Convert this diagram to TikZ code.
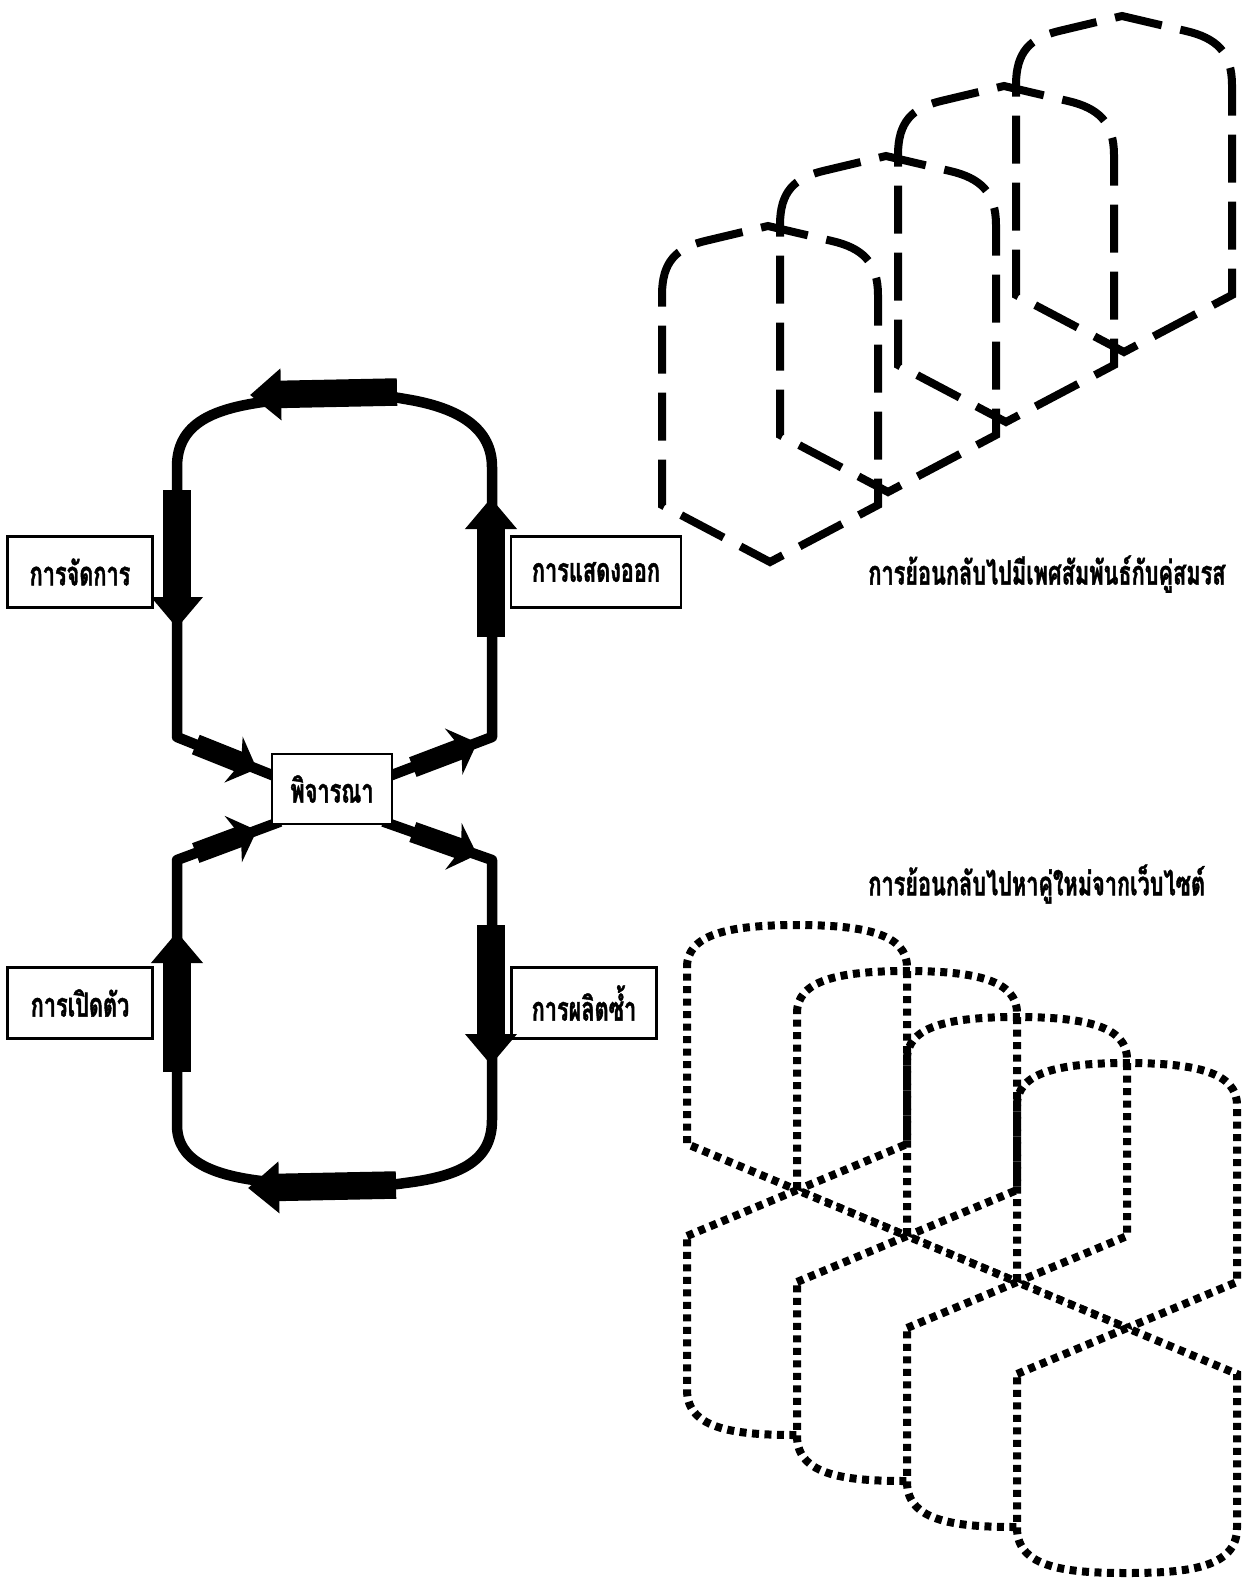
\documentclass[tikz,border=0pt]{standalone}
\usepackage{fontspec}
\newfontfamily\thaifont[Script=Thai,FakeStretch=0.65,BoldFeatures={FakeBold=1.2}]{Loma}
\usetikzlibrary{arrows.meta,calc,backgrounds}

\begin{document}
\begin{tikzpicture}[x=0.02cm,y=-0.02cm,
    labelbox/.style={draw, line width=1.2pt, fill=white, minimum width=2.9cm, minimum height=1.42cm,
      font=\fontsize{19}{22}\thaifont\bfseries},
    captiontext/.style={anchor=west, inner sep=0pt, font=\fontsize{19}{22}\thaifont\bfseries},
    loopline/.style={line width=0.21cm, line join=round},
    bigarrow/.style={line width=0.55cm, -{Triangle[width=1cm,length=0.62cm]}},
    smallarrow/.style={line width=0.42cm, -{Stealth[width=0.98cm,length=0.5cm,inset=0.16cm]}},
    dashedwall/.style={line width=0.16cm, dash pattern=on 0.96cm off 0.38cm},
    dottedwall/.style={line width=0.16cm, dash pattern=on 0.14cm off 0.11cm}]

  \useasboundingbox (0,0) rectangle (1251,1580);

  % Boxes
  \node[labelbox, minimum width=2.4cm, minimum height=1.4cm] (cons) at (332,789) {พิจารณา};
  \node[labelbox] (manage) at (80,572) {การจัดการ};
  \node[labelbox, minimum width=3.4cm] (express) at (596,572) {การแสดงออก};
  \node[labelbox] (open) at (80,1003) {การเปิดตัว};
  \node[labelbox] (repro) at (584,1003) {การผลิตซ้ำ};

  % Loop corners
  \coordinate (ul) at (177,737);
  \coordinate (ur) at (492,737);
  \coordinate (ll) at (177,860);
  \coordinate (lr) at (492,860);
  \coordinate (ua) at ($(cons.south west)!0.7!(cons.north west)$);
  \coordinate (ub) at ($(cons.south east)!0.7!(cons.north east)$);
  \coordinate (la) at (cons.south west);
  \coordinate (lb) at (cons.south east);

  % Figure-eight loop
  \begin{scope}[on background layer]
    \draw[loopline] ($(ul)!1.1!(ua)$) -- (ul) -- (177,467)
      .. controls (177,422) and (215,408) .. (270,401)
      .. controls (330,393) and (380,394) .. (405,399)
      .. controls (462,408) and (492,430) .. (492,467)
      -- (ur) -- ($(ur)!1.1!(ub)$);
    \draw[loopline] ($(ll)!1.1!(la)$) -- (ll) -- (177,1125)
      .. controls (177,1160) and (210,1176) .. (270,1182)
      .. controls (330,1188) and (380,1187) .. (405,1183)
      .. controls (462,1176) and (492,1160) .. (492,1120)
      -- (lr) -- ($(lr)!1.1!(lb)$);
  \end{scope}

  % Big arrows
  \draw[bigarrow] (177,490) -- (177,628);
  \draw[bigarrow] (491,637) -- (491,498);
  \draw[bigarrow] (397,392) -- (250,395);
  \draw[bigarrow] (177,1072) -- (177,932);
  \draw[bigarrow] (491,925) -- (491,1065);
  \draw[bigarrow] (396,1185) -- (248,1188);

  % Small arrows at the box
  \draw[smallarrow] ($(ul)!0.2!(ua)$) -- ($(ul)!0.85!(ua)$);
  \draw[smallarrow] ($(ub)!0.2!(ur)$) -- ($(ub)!0.85!(ur)$);
  \draw[smallarrow] ($(ll)!0.2!(la)$) -- ($(ll)!0.85!(la)$);
  \draw[smallarrow] ($(lb)!0.2!(lr)$) -- ($(lb)!0.85!(lr)$);

  % Dashed arches
  \foreach \i in {0,...,3} {
    \draw[dashedwall, shift={(118*\i,-70*\i)}] (662,295)
      .. controls (662,262) and (676,248) .. (705,241) -- (768,226) -- (832,241)
      .. controls (862,248) and (878,262) .. (878,295)
      -- (878,505) -- (770,562) -- (662,505) -- cycle;
  }
  \node[captiontext] (capa) at (868,574) {การย้อนกลับไปมีเพศสัมพันธ์กับคู่สมรส};

  % Dotted arches, upper halves
  \foreach \i in {0,...,3} {
    \draw[dottedwall, shift={(797+110*\i,1190+46*\i)}] (-110,-223)
      .. controls (-110,-255) and (-70,-265) .. (0,-265)
      .. controls (70,-265) and (110,-255) .. (110,-223)
      -- (110,-46) -- (0,0) -- (-110,-46) -- cycle;
  }
  % Dotted arches, lower halves
  \foreach \i in {0,...,3} {
    \draw[dottedwall, fill=white, shift={(797+110*\i,1190+46*\i)}] (-110,46) -- (0,0) -- (110,46)
      -- (110,200) .. controls (110,240) and (60,245) .. (0,245)
      .. controls (-60,245) and (-110,240) .. (-110,200) -- cycle;
  }
  \node[captiontext] (capb) at (868,884) {การย้อนกลับไปหาคู่ใหม่จากเว็บไซต์};
\end{tikzpicture}
\end{document}
